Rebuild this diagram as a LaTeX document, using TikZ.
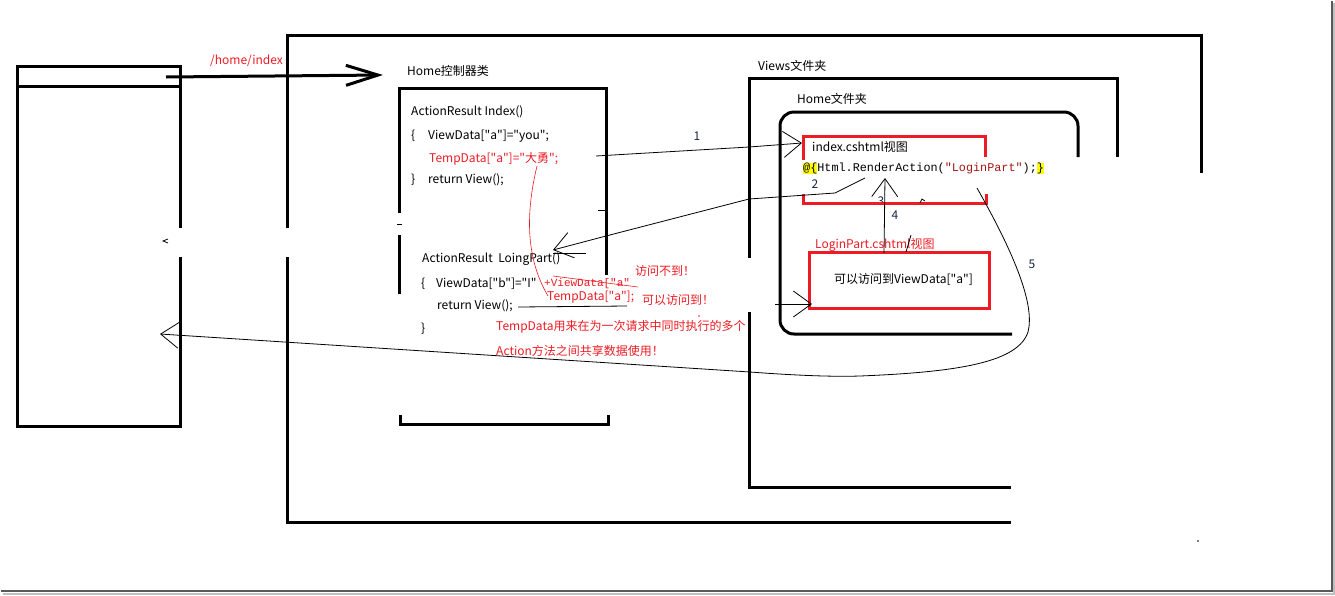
\documentclass[tikz,border=0pt]{standalone}
\usepackage{fontspec}
\setmainfont{Noto Sans CJK SC}[Ligatures=TeXOff]
\newfontfamily\codefont{Liberation Mono}
\usetikzlibrary{arrows.meta}
\definecolor{paintred}{RGB}{237,28,36}
\definecolor{strred}{RGB}{163,21,21}
\definecolor{hiyellow}{RGB}{255,255,0}
\definecolor{numink}{RGB}{25,35,70}
\setlength{\fboxsep}{0pt}

\begin{document}
\begin{tikzpicture}[x=1pt,y=-1pt]
      \tikzset{
        every node/.style={inner sep=0pt,anchor=west,font=\fontsize{12}{14}\selectfont},
        wall/.style={line width=3pt},
        redwall/.style={line width=3pt,draw=paintred},
        pen/.style={line width=0.8pt},
        redpen/.style={line width=0.6pt,draw=paintred},
        barb/.style={-{Straight Barb[length=18pt,width=26pt]}},
        bigbarb/.style={-{Straight Barb[length=32pt,width=20pt]}},
        note/.style={text=paintred},
        num/.style={anchor=center,text=numink},
        code/.style={font=\codefont\fontsize{11.8}{14}\selectfont}
      }

      \fill[white] (0,0) rectangle (1335,595);
      \useasboundingbox (0,0) rectangle (1335,595);
      \draw[black!25,line width=2pt] (1334,3) -- (1334,594) -- (3,594);
      \draw[black!65,line width=2pt] (1332,1) -- (1332,591) -- (1,591);

      % browser
      \draw[wall] (180,257) -- (180,426) -- (17,426) -- (17,66) -- (180,66) -- (180,228);
      \draw[wall] (17,86) -- (182,86);
      \coordinate (req) at (166,77);
      \coordinate (ctlin) at (383,75);
      \draw[wall,bigbarb] (req) -- (ctlin);
      \node[note] (url) at (210,61) {/home/index};

      % site, controller, views
      \draw[wall] (287,228) -- (287,35) -- (1201,35) -- (1201,173);
      \draw[wall] (287,257) -- (287,522) -- (1011,522);
      \draw[wall] (399,213) -- (399,88) -- (606,88) -- (606,275);
      \draw[wall] (399,235) -- (399,294);
      \draw[wall] (400,415) -- (400,424) -- (608,424) -- (608,415);
      \draw[pen] (598,210) -- (606,210) (397,224) -- (402,224);
      \draw[wall] (749,258) -- (749,78) -- (1117,78) -- (1117,157);
      \draw[wall] (749,312) -- (749,487) -- (1011,487);
      \draw[wall,rounded corners=14pt] (1078,157) -- (1078,112) -- (780,112) -- (780,334) -- (1012,334);

      \node (ctlname) at (407,71) {Home控制器类};
      \node (viewsname) at (758,66) {Views文件夹};
      \node (homename) at (797,99) {Home文件夹};

      \node (idxsig) at (411,112) {ActionResult Index()};
      \node (idxopen) at (411,136) {\{};
      \node (idxvd) at (428,136) {ViewData["a"]="you";};
      \node[note] (idxtd) at (429,159) {TempData["a"]="大勇";};
      \node (idxclose) at (411,180) {\}};
      \node (idxret) at (428,180) {return View();};
      \node (lpsig) at (422,259) {ActionResult\ \ LoingPart()};
      \node (lpopen) at (421,284) {\{};
      \node (lpvd) at (436,284) {ViewData["b"]="I"};
      \node (lpret) at (437,306) {return View();};
      \node (lpclose) at (421,329) {\}};

      % views
      \node[num] (n3) at (881,201) {3};
      \draw[redwall] (803,160) -- (803,136) -- (985,136) -- (985,157);
      \draw[redwall] (803,194) -- (803,203) -- (986,203) -- (986,194);
      \draw[redwall] (809,252) rectangle (989,308);
      \node (idxtitle) at (812,147) {index.cshtml视图};
      \node[code] (render) at (803,168) {\colorbox{hiyellow}{@\{}Html.RenderAction(\textcolor{strred}{"LoginPart"});\colorbox{hiyellow}{\}}};
      \node[note] (lptitle) at (815,245) {LoginPart.cshtml视图};
      \node (lpbody) at (834,279) {可以访问到ViewData["a"]};

      % red notes
      \node[note,font=\codefont\fontsize{11}{13}\selectfont] (plusvd) at (544,284) {+ViewData["a"};
      \draw[redpen] (553,276) -- (638,287);
      \node[note] (tdread) at (547,297) {TempData["a"];};
      \node[note] (nonote) at (635,271) {访问不到！};
      \node[note] (yesnote) at (642,300) {可以访问到！};
      \node[note] (expl1) at (496,327) {TempData用来在为一次请求中同时执行的多个};
      \node[note] (expl2) at (496,351) {Action方法之间共享数据使用！};
      \coordinate (tdfrom) at (537,166);
      \coordinate (tdto) at (548,296);
      \draw[redpen] (tdfrom) .. controls (524,220) and (528,262) .. (tdto);
      \fill[paintred] (699,316) circle (0.8);

      % numbered calls
      \coordinate (c1) at (596,156);
      \coordinate (c1t) at (802,143);
      \draw[pen,barb] (c1) -- (749,147) -- (c1t);
      \node[num] (n1) at (697,136) {1};

      \coordinate (c2) at (865,178);
      \coordinate (c2t) at (553,250);
      \draw[pen,barb] (c2) -- (835,193) -- (749,199) -- (606,236) -- (c2t);
      \draw[pen] (553,253) -- (586,253);
      \node[num] (n2) at (815,184) {2};

      \coordinate (c4) at (884,253);
      \coordinate (c4t) at (885,178);
      \draw[pen,barb] (c4) -- (c4t);
      \node[num] (n4) at (895,215) {4};
      \draw[pen] (911,235) -- (906,252) (920,203) -- (922,199) -- (925,201);

      \coordinate (c5) at (977,188);
      \coordinate (back) at (160,334);
      \draw[pen,barb] (c5) .. controls (1015,255) and (1035,305) .. (1028,332)
            .. controls (1018,362) and (960,372) .. (860,376) .. controls (830,377) and (790,375) .. (750,372) -- (back);
      \node[num] (n5) at (1032,264) {5};

      \coordinate (rv) at (518,307);
      \coordinate (rvt) at (812,304);
      \draw[pen] (rv) -- (627,306);
      \draw[pen,barb] (775,304) -- (rvt);

      \draw[pen] (168,239) -- (163,241) -- (168,243);
      \fill (1198,541) circle (0.9);
\end{tikzpicture}
\end{document}
